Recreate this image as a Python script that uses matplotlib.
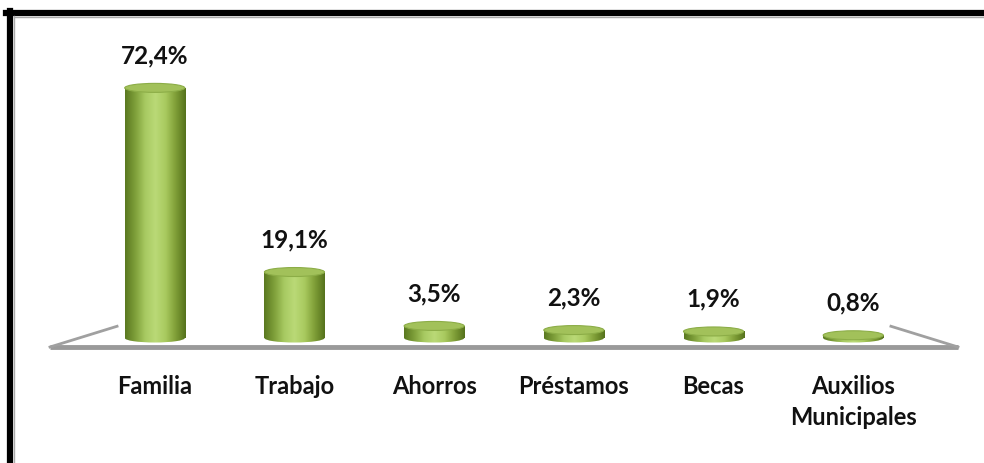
import matplotlib
matplotlib.use("Agg")
import matplotlib.pyplot as plt
import numpy as np
from matplotlib.patches import Rectangle, Ellipse
from matplotlib.colors import LinearSegmentedColormap
from matplotlib.lines import Line2D

# %% datos
categorias = ["Familia", "Trabajo", "Ahorros", "Préstamos", "Becas", "Auxilios\nMunicipales"]
valores = [72.4, 19.1, 3.5, 2.3, 1.9, 0.8]
etiquetas = ["72,4%", "19,1%", "3,5%", "2,3%", "1,9%", "0,8%"]

plt.rcParams["font.family"] = ["Lato", "DejaVu Sans"]

# %% figura
fig = plt.figure(figsize=(9.84, 4.63), dpi=100)
ax = fig.add_axes([50 / 984, (463 - 347) / 463, 908 / 984, 331 / 463])
ax.set_xlim(-0.75, len(valores) - 0.25)
ax.set_ylim(-2.6, 93.2)

verde = LinearSegmentedColormap.from_list(
    "cil", ["#5a7820", "#7e9f3a", "#a8ca62", "#bad977", "#a9ca5f", "#7f9e37", "#55721c"])
grad = np.linspace(0, 1, 256).reshape(1, -1)

w = 0.43       # ancho del cilindro
eh = 2.6       # alto de la elipse

for i, v in enumerate(valores):
    x0, x1 = i - w / 2, i + w / 2
    cuerpo = Rectangle((x0, 0), w, v, transform=ax.transData)
    im = ax.imshow(grad, cmap=verde, aspect="auto", extent=[x0, x1, -eh / 2, v],
                   origin="lower", zorder=2, interpolation="bilinear")
    im.set_clip_path(cuerpo)
    base = Ellipse((i, 0), w, eh, transform=ax.transData)
    im2 = ax.imshow(grad, cmap=verde, aspect="auto", extent=[x0, x1, -eh / 2, v],
                    origin="lower", zorder=2, interpolation="bilinear")
    im2.set_clip_path(base)
    ax.add_patch(Ellipse((i, v), w, eh, facecolor="#a2c15a", edgecolor="#8cad47",
                         linewidth=0.8, zorder=3))
    ax.text(i, v + 6, etiquetas[i], ha="center", va="bottom", fontsize=17.5,
            fontweight="bold", color="#111111", zorder=4)

# piso
ax.plot([-0.75, len(valores) - 0.25], [-2.6, -2.6], color="#9a9a9a", lw=3.5,
        solid_capstyle="butt", clip_on=False, zorder=1)
ax.plot([-0.75, -0.27], [-2.6, 3.4], color="#a0a0a0", lw=2, clip_on=False, zorder=1)
ax.plot([len(valores) - 0.25, 5.27], [-2.6, 3.4], color="#a0a0a0", lw=2, clip_on=False, zorder=1)

ax.set_xticks(range(len(categorias)))
ax.set_xticklabels(categorias, fontsize=17, fontweight="bold", color="#111111",
                   linespacing=1.45)
ax.tick_params(axis="x", length=0, pad=20)
ax.set_yticks([])
for s in ax.spines.values():
    s.set_visible(False)

# marco negro
fig.add_artist(Line2D([6 / 984, 1], [1 - 13 / 463, 1 - 13 / 463], color="black", lw=4.5))
fig.add_artist(Line2D([10 / 984, 10 / 984], [0, 1 - 11 / 463], color="black", lw=4.5))
fig.add_artist(Line2D([14 / 984, 14 / 984], [0, 1 - 16 / 463], color="#aaaaaa", lw=1))
fig.add_artist(Line2D([14 / 984, 1], [1 - 17 / 463, 1 - 17 / 463], color="#aaaaaa", lw=1))

fig.savefig("out.png", dpi=100)
